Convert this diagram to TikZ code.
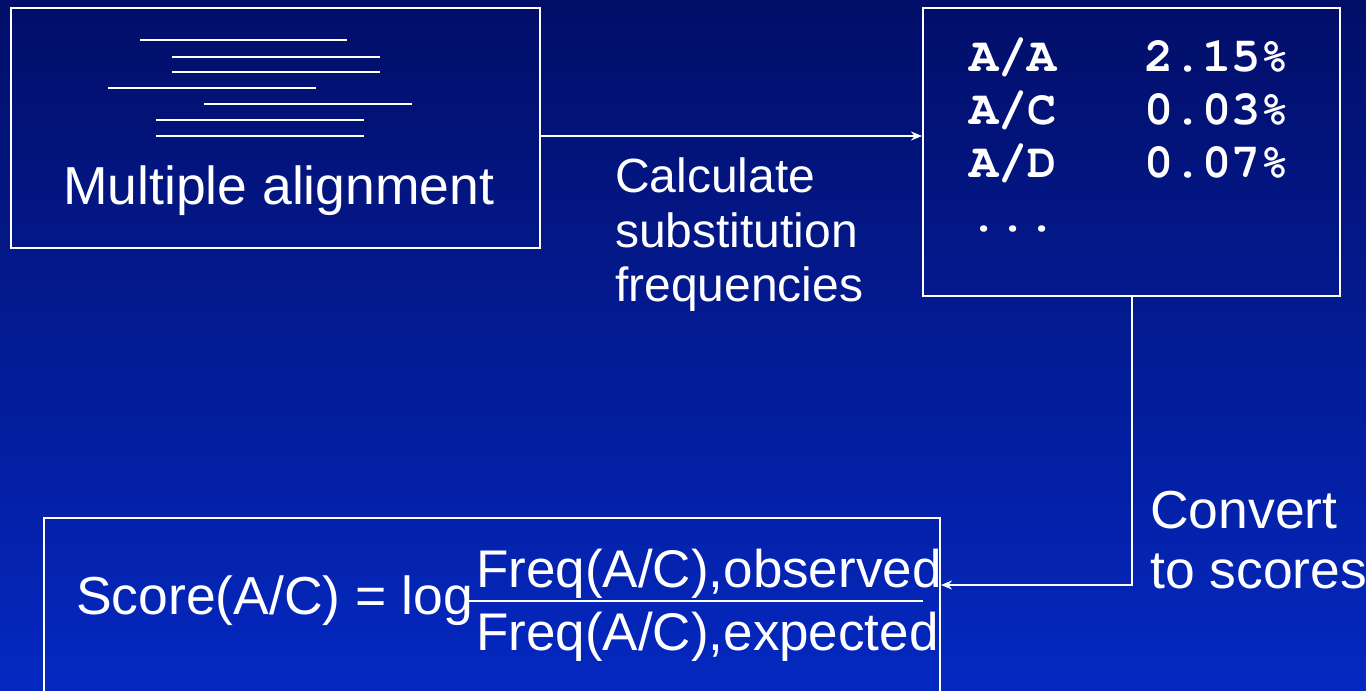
\documentclass[tikz,border=0pt]{standalone}
\usepackage{fontspec}
\setmainfont{Liberation Sans}
\newfontfamily\monofont{TeX Gyre Cursor}
\usetikzlibrary{arrows.meta}
\definecolor{bgtop}{RGB}{2,14,104}
\definecolor{bgbot}{RGB}{4,40,192}
\tikzset{
  boxnode/.style={draw=white, line width=2pt, rectangle, inner sep=0pt},
  arr/.style={draw=white, line width=2pt, -{Stealth[length=11pt,width=9pt]}},
  txt/.style={text=white, inner sep=0pt, anchor=base west},
  big/.style={font=\fontsize{53.5}{60}\selectfont},
  frac/.style={font=\fontsize{53}{60}\selectfont},
  mid/.style={font=\fontsize{48}{55}\selectfont},
  tab/.style={font=\monofont\bfseries\fontsize{48.6}{53}\selectfont},
  aline/.style={draw=white, line width=2.5pt}
}
\begin{document}
\begin{tikzpicture}[x=1pt,y=-1pt]
\useasboundingbox (0,0) rectangle (1366,691);
\shade[top color=bgtop, bottom color=bgbot] (0,0) rectangle (1366,691);
% boxes
\node[boxnode, minimum width=529pt, minimum height=240pt] (box1) at (275.5,128) {};
\node[boxnode, minimum width=417pt, minimum height=288pt] (box2) at (1131.5,152) {};
\node[boxnode, minimum width=896pt, minimum height=190pt] (box3) at (492,613) {};
% alignment lines
\draw[aline] (140,40) -- (347,40);
\draw[aline] (172,57) -- (380,57);
\draw[aline] (172,72) -- (380,72);
\draw[aline] (108,88) -- (316,88);
\draw[aline] (204,104) -- (412,104);
\draw[aline] (156,120) -- (364,120);
\draw[aline] (156,136) -- (364,136);
\node[txt, big] (malign) at (63,204) {Multiple alignment};
% table
\node[txt, tab] (r1a) at (969,71) {A/A};
\node[txt, tab] (r1b) at (1144,71) {2.15\%};
\node[txt, tab] (r2a) at (969,124) {A/C};
\node[txt, tab] (r2b) at (1144,124) {0.03\%};
\node[txt, tab] (r3a) at (969,177) {A/D};
\node[txt, tab] (r3b) at (1144,177) {0.07\%};
\node[txt, tab] (r4a) at (969,231) {...};
% labels
\node[txt, mid] (calc1) at (615,192) {Calculate};
\node[txt, mid] (calc2) at (615,247) {substitution};
\node[txt, mid] (calc3) at (615,301) {frequencies};
\node[txt, big] (conv1) at (1150,528) {Convert};
\node[txt, big] (conv2) at (1150,588) {to scores};
% formula
\node[txt, big] (score) at (76,614) {Score(A/C) = log};
\node[txt, frac] (num) at (476,587) {Freq(A/C),observed};
\node[txt, frac] (den) at (476,650) {Freq(A/C),expected};
\coordinate (fracL) at (468,601);
\coordinate (fracR) at (923,601);
\draw[white, line width=2pt] (fracL) -- (fracR);
% connectors
\coordinate (a1) at (0,136);
\coordinate (a2) at (0,585);
\draw[arr] (box1.east |- a1) -- (box2.west |- a1);
\draw[arr] (box2.south) |- (box3.east |- a2);
\end{tikzpicture}
\end{document}
